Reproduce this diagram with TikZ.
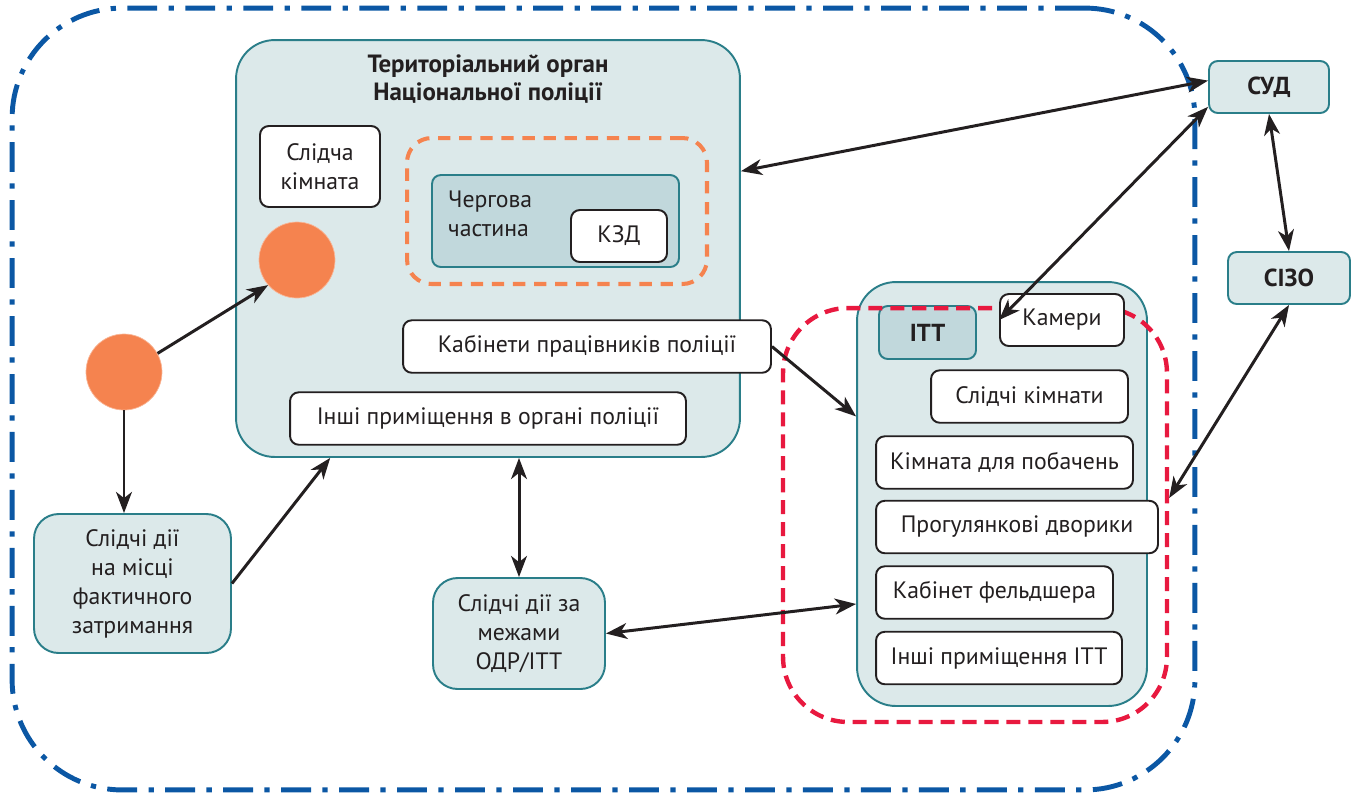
\documentclass[tikz,border=0pt]{standalone}
\usepackage{fontspec}
\setmainfont{PT Sans}
\usetikzlibrary{positioning}
\usetikzlibrary{arrows.meta}
\definecolor{boxfill}{HTML}{DCE9EA}
\definecolor{darkfill}{HTML}{C1D8DC}
\definecolor{tealline}{HTML}{2A7E89}
\definecolor{inkblack}{HTML}{231F20}
\definecolor{dotorange}{HTML}{F5834F}
\definecolor{zonered}{HTML}{E8193F}
\definecolor{areablue}{HTML}{0B57A4}

\begin{document}
\begin{tikzpicture}[x=0.02cm,y=-0.02cm,
  font=\fontsize{13.5}{16.5}\selectfont, text=inkblack,
  conn/.style={line width=1.7pt,inkblack},
  oneway/.style={conn,-{Stealth[length=12pt,width=9pt,inset=3.5pt]}},
  twoway/.style={conn,{Stealth[length=12pt,width=9pt,inset=3.5pt]}-{Stealth[length=12pt,width=9pt,inset=3.5pt]}},
  hall/.style={rectangle,draw=tealline,fill=boxfill,line width=1.1pt,rounded corners=22pt,align=center},
  tealbox/.style={rectangle,draw=tealline,fill=boxfill,line width=1.1pt,rounded corners=14pt,align=center},
  smallbox/.style={rectangle,draw=tealline,line width=1.1pt,rounded corners=5pt,minimum height=1.04cm,font=\fontsize{14}{16.5}\selectfont\bfseries},
  room/.style={rectangle,draw=inkblack,fill=white,line width=1.1pt,rounded corners=5pt,minimum height=1.05cm,align=center},
  dot/.style={circle,fill=dotorange,draw=dotorange!60!white,line width=0.4pt,minimum size=1.52cm,inner sep=0pt}]

  \useasboundingbox (0,0) rectangle (1358,796);

  \node (area) [rectangle,draw=areablue,line width=2.8pt,rounded corners=2.2cm,
    dash pattern=on 17pt off 6.5pt on 3pt off 6.5pt,
    minimum width=23.66cm,minimum height=15.64cm] at (603.5,399) {};

  \node (police) [hall,minimum width=10.08cm,minimum height=8.34cm] at (488,248.5) {};
  \node (title) [font=\fontsize{14.2}{16}\selectfont\bfseries,align=center] at (488,79)
    {Територіальний орган\\Національної поліції};
  \node (slidcha) [room,minimum width=2.4cm,minimum height=1.62cm] at (320,166.5) {Слідча\\кімната};
  \node (c2) [dot] at (297,260) {};
  \node (kzdzone) [rectangle,draw=dotorange,line width=2.3pt,rounded corners=14pt,
    dash pattern=on 7pt off 5pt,minimum width=6cm,minimum height=2.92cm] at (557,211) {};
  \node (cherg) [smallbox,fill=darkfill,minimum width=4.94cm,minimum height=1.84cm] at (555.5,221) {};
  \node (chergtext) [anchor=west,align=left] at (442,214) {Чергова\\частина};
  \node (kzd) [room,minimum width=1.92cm,minimum height=1.04cm] at (619,236) {КЗД};
  \node (kab) [room,minimum width=7.36cm] at (587,346.5) {Кабінети працівників поліції};
  \node (inshi) [room,minimum width=7.92cm] at (488,418.5) {Інші приміщення в органі поліції};

  \node (c1) [dot] at (124,372) {};
  \node (mistse) [tealbox,minimum width=3.94cm,minimum height=2.78cm] at (132.5,583.5)
    {Слідчі дії\\на місці\\фактичного\\затримання};
  \node (odr) [tealbox,minimum width=3.44cm,minimum height=2.22cm] at (519,633.5)
    {Слідчі дії за\\межами\\ОДР/ІТТ};

  \node (itt) [hall,minimum width=5.8cm,minimum height=8.48cm] at (1002,494) {};
  \node (ittlbl) [smallbox,fill=darkfill,minimum width=1.94cm,minimum height=1.06cm] at (927.5,332.5) {ІТТ};
  \node (zone) [rectangle,draw=zonered,line width=2.5pt,rounded corners=1.3cm,
    dash pattern=on 8pt off 4.5pt,minimum width=7.68cm,minimum height=8.28cm] at (975,515) {};
  \node (kamery) [room,minimum width=2.48cm,minimum height=1.04cm] at (1062,320) {Камери};
  \node (slkimn) [room,minimum width=3.94cm] at (1029.5,396.5) {Слідчі кімнати};
  \node (pobach) [room,minimum width=5.14cm] at (1004.5,462.5) {Кімната для побачень};
  \node (dvoryky) [room,minimum width=5.64cm] at (1017,527) {Прогулянкові дворики};
  \node (feld) [room,minimum width=4.74cm] at (994.5,592.5) {Кабінет фельдшера};
  \node (inshiitt) [room,minimum width=4.92cm] at (999,658) {Інші приміщення ІТТ};

  \node (sud) [smallbox,fill=boxfill,minimum width=2.4cm] at (1269,87) {СУД};
  \node (sizo) [smallbox,fill=boxfill,minimum width=2.44cm] at (1289,278) {СІЗО};

  \path[twoway]
    (police.17) edge (sud.174)
    (kamery.west) edge (sud.198)
    (sud.south) edge (sizo.north)
    (sizo.south) edge (zone.5)
    (police.south -| odr.north) edge (odr.north)
    (odr.east) edge (itt.217);
  \path[oneway]
    (kab.east) edge (itt.152)
    (c1.29) edge (c2.221)
    (c1.south) edge (c1.south |- mistse.north)
    (mistse.east) edge (police.233);
\end{tikzpicture}
\end{document}
